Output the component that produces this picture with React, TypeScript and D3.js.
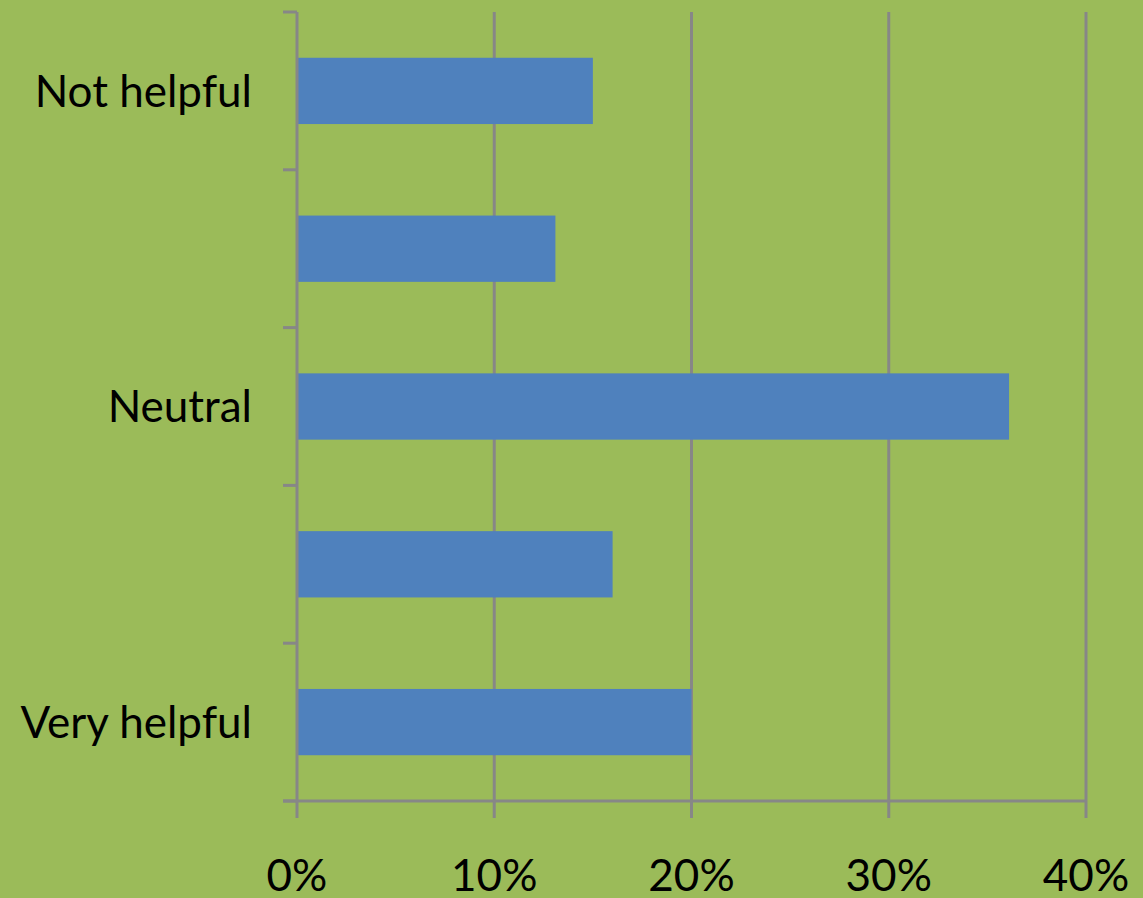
import React from "react";
import * as d3 from "d3";

const categories = ["Not helpful", "", "Neutral", "", "Very helpful"];
const values = [0.15, 0.131, 0.361, 0.16, 0.2];
const xTicks = [0, 0.1, 0.2, 0.3, 0.4];

const W = 1143;
const H = 898;
const left = 297;
const right = 1086;
const top = 12;
const bottom = 801;

export default function App() {
  const x = d3.scaleLinear().domain([0, 0.4]).range([left, right]);
  const y = d3
    .scaleBand<number>()
    .domain(d3.range(categories.length))
    .range([top, bottom])
    .paddingInner(0.58)
    .paddingOuter(0.29);
  const bandStep = (bottom - top) / categories.length;
  const boundaries = d3.range(categories.length + 1).map((i) => top + i * bandStep);
  const grid = "#878787";
  const font = "Lato, 'Open Sans', sans-serif";
  return (
    <svg
      width={W}
      height={H}
      style={{ position: "absolute", left: 0, top: 0, display: "block" }}
    >
      <rect x={0} y={0} width={W} height={H} fill="#9BBB59" />
      {xTicks.map((t, i) =>
        i === 0 ? null : (
          <line key={"g" + i} x1={x(t)} x2={x(t)} y1={top} y2={bottom} stroke={grid} strokeWidth={3} />
        )
      )}
      {values.map((v, i) => (
        <rect
          key={"b" + i}
          x={x(0)}
          y={y(i)!}
          width={x(v) - x(0)}
          height={y.bandwidth()}
          fill="#4F81BD"
        />
      ))}
      <line x1={left} x2={left} y1={top} y2={bottom} stroke={grid} strokeWidth={3} />
      {boundaries.map((b, i) => (
        <line key={"yt" + i} x1={283} x2={left} y1={b} y2={b} stroke={grid} strokeWidth={3} />
      ))}
      <line x1={283} x2={right} y1={bottom} y2={bottom} stroke={grid} strokeWidth={3} />
      {xTicks.map((t, i) => (
        <line key={"xt" + i} x1={x(t)} x2={x(t)} y1={bottom} y2={818} stroke={grid} strokeWidth={3} />
      ))}
      {xTicks.map((t, i) => (
        <text
          key={"xl" + i}
          x={x(t)}
          y={891}
          textAnchor="middle"
          fontFamily={font}
          fontSize={44}
          fill="#000"
        >
          {d3.format(".0%")(t)}
        </text>
      ))}
      {categories.map((c, i) =>
        c ? (
          <text
            key={"yl" + i}
            x={252}
            y={y(i)! + y.bandwidth() / 2}
            dy="0.36em"
            textAnchor="end"
            fontFamily={font}
            fontSize={44}
            fill="#000"
          >
            {c}
          </text>
        ) : null
      )}
    </svg>
  );
}
